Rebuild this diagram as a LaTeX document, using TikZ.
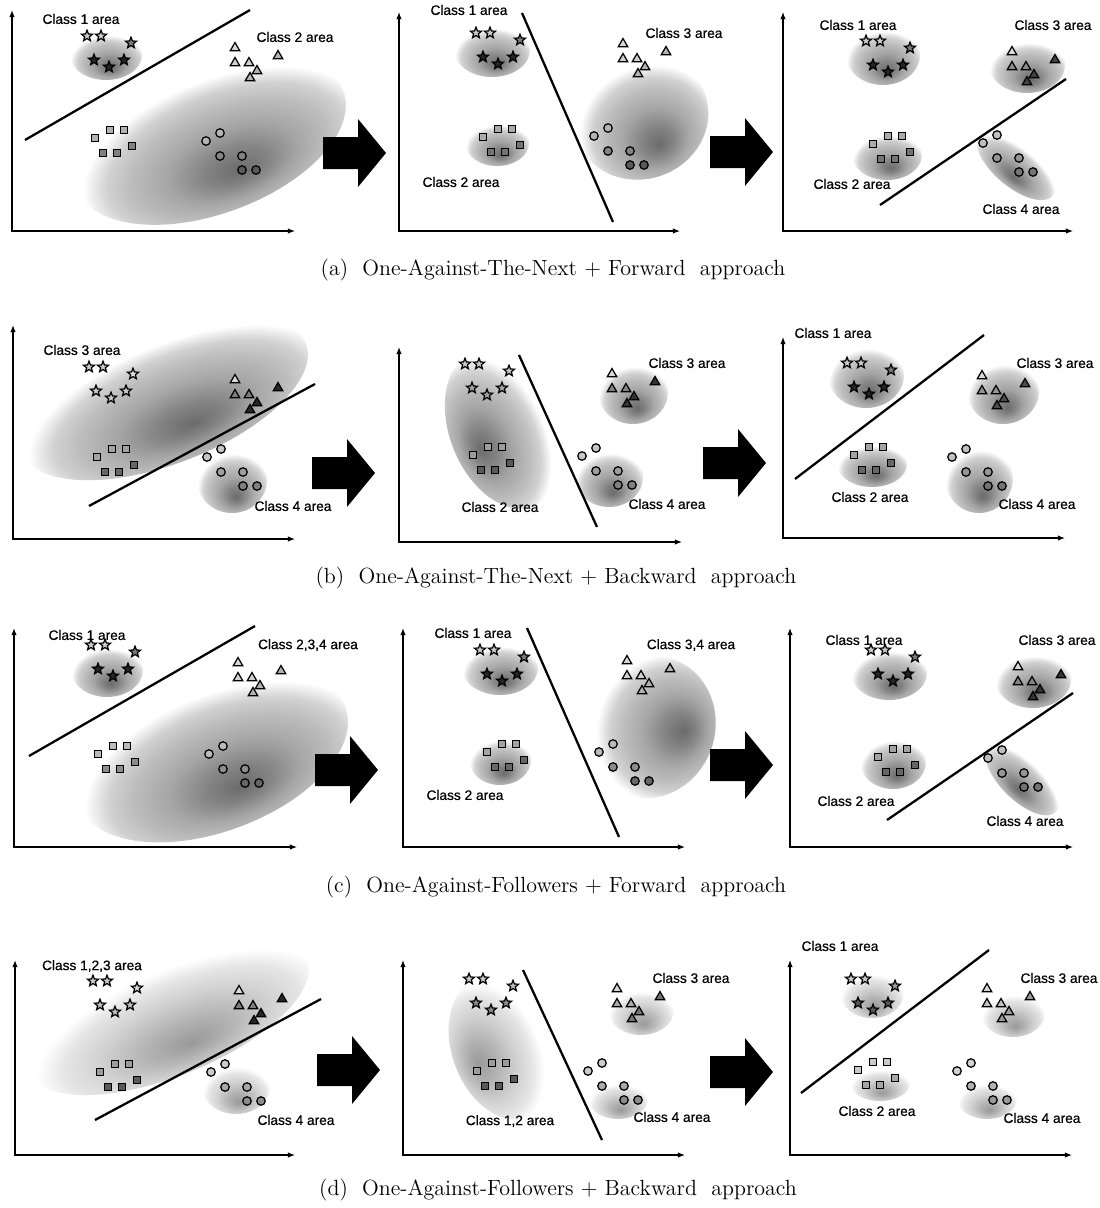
\documentclass[tikz,border=0pt]{standalone}
\usepackage{fontspec}
\newfontfamily\lblfont{Liberation Sans}[FakeBold=0.6]
\usetikzlibrary{arrows.meta,shapes.geometric,positioning}

\pgfdeclareradialshading{areadark}{\pgfpoint{3bp}{-13bp}}%
  {color(0bp)=(black!58); color(6bp)=(black!48); color(12bp)=(black!35); color(18bp)=(black!26); color(22bp)=(black!18); color(24.5bp)=(black!7); color(26bp)=(white); color(50bp)=(white)}
\pgfdeclareradialshading{arealight}{\pgfpoint{2bp}{-14bp}}%
  {color(0bp)=(black!40); color(8bp)=(black!29); color(15bp)=(black!18); color(21bp)=(black!10); color(24bp)=(black!3); color(25.5bp)=(white); color(50bp)=(white)}

\tikzset{
  area/.style={shading=areadark},
  arealt/.style={shading=arealight},
  axis/.style={line width=0.6pt,{Latex[length=4pt,width=3pt]}-{Latex[length=4pt,width=3pt]}},
  sep/.style={line width=1.3pt},
  lbl/.style={font=\lblfont\fontsize{7.8}{9}\selectfont,inner sep=0pt},
  capt/.style={font=\fontsize{12.5}{14}\selectfont,inner sep=0pt},
  mk/.style={draw=black,line width=0.7pt,inner sep=0pt},
  mkstar/.style={mk,star,star points=5,star point ratio=2.3,minimum size=2.3mm,fill=#1},
  mktri/.style={mk,regular polygon,regular polygon sides=3,minimum size=2.2mm,fill=#1},
  mksq/.style={mk,rectangle,minimum size=1.5mm,fill=#1},
  mkcirc/.style={mk,circle,minimum size=1.7mm,fill=#1},
  pics/stars/.style={code={
    \node[mkstar=black!20] (-1) at (0,0) {};
    \node[mkstar=black!20] (-2) at (14,0) {};
    \node[mkstar=black!#1!white!60] (-3) at (44,7) {};
    \node[mkstar=black!#1] (-4) at (7,24) {};
    \node[mkstar=black!#1] (-5) at (22,31) {};
    \node[mkstar=black!#1] (-6) at (37,24) {};
  }},
  pics/tris/.style={code={
    \node[mktri=black!15] (-1) at (0,0) {};
    \node[mktri=black!#1] (-2) at (43,8) {};
    \node[mktri=black!#1!white!60] (-3) at (0,15) {};
    \node[mktri=black!#1!white!60] (-4) at (14,15) {};
    \node[mktri=black!#1] (-5) at (22,23) {};
    \node[mktri=black!#1] (-6) at (15,30) {};
  }},
  pics/sqs/.style={code={
    \node[mksq=black!#1!white!60] (-1) at (0,0) {};
    \node[mksq=black!#1!white!60] (-2) at (15,-8) {};
    \node[mksq=black!#1!white!60] (-3) at (29,-8) {};
    \node[mksq=black!#1] (-4) at (37,8) {};
    \node[mksq=black!#1] (-5) at (8,15) {};
    \node[mksq=black!#1] (-6) at (22,15) {};
  }},
  pics/circs/.style={code={
    \node[mkcirc=black!#1!white!45] (-1) at (0,0) {};
    \node[mkcirc=black!#1!white!45] (-2) at (14,-8) {};
    \node[mkcirc=black!#1!white!75] (-3) at (14,15) {};
    \node[mkcirc=black!#1!white!75] (-4) at (36,15) {};
    \node[mkcirc=black!#1] (-5) at (36,29) {};
    \node[mkcirc=black!#1] (-6) at (50,29) {};
  }},
  pics/bigarrow/.style={code={
    \fill[black] (0,-16) -- (35,-16) -- (35,-34) -- (63,0) -- (35,34) -- (35,16) -- (0,16) -- cycle;
  }},
}

\begin{document}
\begin{tikzpicture}[x=0.2mm,y=-0.2mm]
  \fill[white] (0,0) rectangle (1100,1208);
  \useasboundingbox (0,0) rectangle (1100,1208);

  % (a) one-against-the-next, forward
  \shade[area] (106,55) ellipse (36 and 25);
  \begin{scope}[transform canvas={rotate around={20:(210,140)}}]
    \shade[area] (210,140) ellipse (142 and 74);
  \end{scope}
  \draw[sep] (25,140) -- (250,10);
  \pic (a1s) at (87,36) {stars=85};
  \pic (a1t) at (235,48) {tris=30};
  \pic (a1q) at (95,138) {sqs=50};
  \pic (a1c) at (206,141) {circs=65};
  \node[lbl] (a1l1) at (81,19) {Class 1 area};
  \node[lbl] (a1l2) at (295,37) {Class 2 area};
  \draw[axis] (12,10) |- (295,231);
  \pic (a1arr) at (323,153) {bigarrow};

  \shade[area] (492,50) ellipse (38 and 27);
  \shade[area] (497,143) ellipse (32 and 23);
  \begin{scope}[transform canvas={rotate around={20:(641,117)}}]
    \shade[area] (641,117) ellipse (68 and 62);
  \end{scope}
  \draw[sep] (522,13) -- (613,222);
  \pic (a2s) at (476,33) {stars=85};
  \pic (a2q) at (483,137) {sqs=55};
  \pic (a2t) at (623,44) {tris=30};
  \pic (a2c) at (594,136) {circs=65};
  \node[lbl] (a2l1) at (469,10) {Class 1 area};
  \node[lbl] (a2l2) at (461,182) {Class 2 area};
  \node[lbl] (a2l3) at (684,33) {Class 3 area};
  \draw[axis] (399,12) |- (680,231);
  \pic (a2arr) at (710,152) {bigarrow};

  \shade[area] (883,55) ellipse (37 and 30);
  \shade[area] (1027,65) ellipse (38 and 28);
  \shade[area] (887,155) ellipse (35 and 25);
  \begin{scope}[transform canvas={rotate around={-40:(1016,165)}}]
    \shade[area] (1016,165) ellipse (48 and 22);
  \end{scope}
  \draw[sep] (880,205) -- (1066,79);
  \pic (a3s) at (866,41) {stars=85};
  \pic (a3t) at (1012,52) {tris=75};
  \pic (a3q) at (873,144) {sqs=55};
  \pic (a3c) at (983,143) {circs=55};
  \node[lbl] (a3l1) at (858,25) {Class 1 area};
  \node[lbl] (a3l3) at (1053,25) {Class 3 area};
  \node[lbl] (a3l2) at (852,184) {Class 2 area};
  \node[lbl] (a3l4) at (1021,209) {Class 4 area};
  \draw[axis] (783,12) |- (1073,231);
  \node[capt] (capa) at (553,270) {(a)\ \ One-Against-The-Next + Forward\ \ approach};

  % (b) one-against-the-next, backward
  \begin{scope}[transform canvas={rotate around={21:(164,398)}}]
    \shade[area] (164,398) ellipse (152 and 66);
  \end{scope}
  \shade[area] (232,480) ellipse (35 and 33);
  \draw[sep] (89,506) -- (315,384);
  \pic (b1s) at (89,367) {stars=20};
  \pic (b1t) at (235,380) {tris=85};
  \pic (b1q) at (97,457) {sqs=60};
  \pic (b1c) at (207,457) {circs=50};
  \node[lbl] (b1l3) at (82,350) {Class 3 area};
  \node[lbl] (b1l4) at (293,506) {Class 4 area};
  \draw[axis] (13,325) |- (295,539);
  \pic (b1arr) at (312,473) {bigarrow};

  \begin{scope}[transform canvas={rotate around={-68:(502,430)}}]
    \shade[area] (502,430) ellipse (82 and 52);
  \end{scope}
  \shade[area] (633,392) ellipse (35 and 32);
  \shade[area] (609,477) ellipse (34 and 30);
  \draw[sep] (519,355) -- (597,527);
  \pic (b2s) at (465,364) {stars=35};
  \pic (b2q) at (473,455) {sqs=65};
  \pic (b2t) at (612,374) {tris=80};
  \pic (b2c) at (582,456) {circs=50};
  \node[lbl] (b2l2) at (500,507) {Class 2 area};
  \node[lbl] (b2l3) at (687,363) {Class 3 area};
  \node[lbl] (b2l4) at (667,504) {Class 4 area};
  \draw[axis] (399,347) |- (682,542);
  \pic (b2arr) at (703,463) {bigarrow};

  \shade[area] (866,375) ellipse (38 and 33);
  \shade[area] (1003,391) ellipse (36 and 33);
  \shade[area] (872,464) ellipse (35 and 23);
  \shade[area] (979,478) ellipse (34 and 35);
  \draw[sep] (795,479) -- (984,335);
  \pic (b3s) at (847,363) {stars=85};
  \pic (b3t) at (982,376) {tris=70};
  \pic (b3q) at (854,455) {sqs=60};
  \pic (b3c) at (952,457) {circs=55};
  \node[lbl] (b3l1) at (833,333) {Class 1 area};
  \node[lbl] (b3l3) at (1055,363) {Class 3 area};
  \node[lbl] (b3l2) at (870,497) {Class 2 area};
  \node[lbl] (b3l4) at (1037,504) {Class 4 area};
  \draw[axis] (783,337) |- (1065,538);
  \node[capt] (capb) at (556,578) {(b)\ \ One-Against-The-Next + Backward\ \ approach};

  % (c) one-against-followers, forward
  \shade[area] (107,670) ellipse (36 and 27);
  \begin{scope}[transform canvas={rotate around={20:(212,756)}}]
    \shade[area] (212,756) ellipse (142 and 76);
  \end{scope}
  \draw[sep] (29,756) -- (255,626);
  \pic (c1s) at (91,645) {stars=85};
  \pic (c1t) at (238,663) {tris=30};
  \pic (c1q) at (98,754) {sqs=45};
  \pic (c1c) at (209,754) {circs=60};
  \node[lbl] (c1l1) at (87,635) {Class 1 area};
  \node[lbl] (c1l2) at (308,645) {Class 2,3,4 area};
  \draw[axis] (14,628) |- (297,847);
  \pic (c1arr) at (315,770) {bigarrow};

  \shade[area] (500,668) ellipse (38 and 27);
  \shade[area] (500,760) ellipse (31 and 25);
  \begin{scope}[transform canvas={rotate around={70:(649,727)}}]
    \shade[area] (649,727) ellipse (72 and 66);
  \end{scope}
  \draw[sep] (527,628) -- (619,837);
  \pic (c2s) at (480,650) {stars=85};
  \pic (c2q) at (487,752) {sqs=60};
  \pic (c2t) at (627,661) {tris=30};
  \pic (c2c) at (599,752) {circs=60};
  \node[lbl] (c2l1) at (473,633) {Class 1 area};
  \node[lbl] (c2l2) at (465,795) {Class 2 area};
  \node[lbl] (c2l3) at (691,645) {Class 3,4 area};
  \draw[axis] (403,628) |- (685,847);
  \pic (c2arr) at (710,765) {bigarrow};

  \shade[area] (889,673) ellipse (38 and 27);
  \shade[area] (1033,679) ellipse (38 and 29);
  \shade[area] (893,762) ellipse (33 and 27);
  \begin{scope}[transform canvas={rotate around={-45:(1022,778)}}]
    \shade[area] (1022,778) ellipse (48 and 22);
  \end{scope}
  \draw[sep] (887,820) -- (1073,693);
  \pic (c3s) at (871,650) {stars=85};
  \pic (c3t) at (1018,667) {tris=80};
  \pic (c3q) at (878,757) {sqs=60};
  \pic (c3c) at (988,758) {circs=55};
  \node[lbl] (c3l1) at (864,640) {Class 1 area};
  \node[lbl] (c3l3) at (1057,640) {Class 3 area};
  \node[lbl] (c3l2) at (856,801) {Class 2 area};
  \node[lbl] (c3l4) at (1025,821) {Class 4 area};
  \draw[axis] (790,628) |- (1073,847);
  \node[capt] (capc) at (556,887) {(c)\ \ One-Against-Followers + Forward\ \ approach};

  % (d) one-against-followers, backward
  \begin{scope}[transform canvas={rotate around={22:(168,1016)}}]
    \shade[arealt] (168,1016) ellipse (150 and 60);
  \end{scope}
  \shade[arealt] (236,1087) ellipse (34 and 27);
  \draw[sep] (95,1120) -- (321,999);
  \pic (d1s) at (93,981) {stars=25};
  \pic (d1t) at (239,991) {tris=85};
  \pic (d1q) at (100,1072) {sqs=65};
  \pic (d1c) at (211,1072) {circs=45};
  \node[lbl] (d1l1) at (92,966) {Class 1,2,3 area};
  \node[lbl] (d1l4) at (296,1120) {Class 4 area};
  \draw[axis] (15,960) |- (295,1155);
  \pic (d1arr) at (317,1070) {bigarrow};

  \begin{scope}[transform canvas={rotate around={-70:(502,1048)}}]
    \shade[arealt] (502,1048) ellipse (74 and 50);
  \end{scope}
  \shade[arealt] (641,1010) ellipse (33 and 25);
  \shade[arealt] (618,1099) ellipse (30 and 20);
  \draw[sep] (523,970) -- (602,1140);
  \pic (d2s) at (469,979) {stars=45};
  \pic (d2q) at (477,1071) {sqs=65};
  \pic (d2t) at (617,989) {tris=55};
  \pic (d2c) at (588,1071) {circs=45};
  \node[lbl] (d2l1) at (510,1121) {Class 1,2 area};
  \node[lbl] (d2l3) at (691,978) {Class 3 area};
  \node[lbl] (d2l4) at (672,1117) {Class 4 area};
  \draw[axis] (403,960) |- (685,1155);
  \pic (d2arr) at (710,1072) {bigarrow};

  \shade[arealt] (872,993) ellipse (32 and 25);
  \shade[arealt] (1013,1013) ellipse (32 and 24);
  \shade[arealt] (880,1083) ellipse (30 and 18);
  \shade[arealt] (987,1099) ellipse (30 and 20);
  \draw[sep] (801,1093) -- (989,950);
  \pic (d3s) at (851,979) {stars=65};
  \pic (d3t) at (987,989) {tris=40};
  \pic (d3q) at (858,1070) {sqs=35};
  \pic (d3c) at (957,1071) {circs=40};
  \node[lbl] (d3l1) at (840,946) {Class 1 area};
  \node[lbl] (d3l3) at (1059,978) {Class 3 area};
  \node[lbl] (d3l2) at (877,1111) {Class 2 area};
  \node[lbl] (d3l4) at (1042,1118) {Class 4 area};
  \draw[axis] (790,960) |- (1072,1155);
  \node[capt] (capd) at (558,1190) {(d)\ \ One-Against-Followers + Backward\ \ approach};
\end{tikzpicture}
\end{document}
